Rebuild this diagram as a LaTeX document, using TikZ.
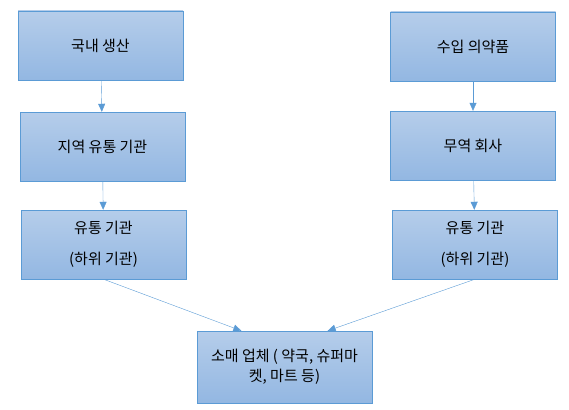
\documentclass[tikz,border=0pt]{standalone}
\usepackage{fontspec}
\setmainfont{Noto Sans CJK KR}
\usetikzlibrary{arrows.meta}
\definecolor{boxline}{HTML}{5B9BD5}
\definecolor{boxtop}{HTML}{B5CDEA}
\definecolor{boxbot}{HTML}{93B7E2}

\begin{document}
\begin{tikzpicture}[x=1pt,y=-1pt,
  box/.style={draw=boxline,top color=boxtop,bottom color=boxbot,
    minimum width=165pt,minimum height=69pt,inner sep=0pt,align=center,
    font=\fontsize{15}{31}\selectfont},
  flow/.style={draw=boxline,-{Triangle[length=8pt,width=7pt]}}]
  \useasboundingbox (0,0) rectangle (569,409);
  % left column
  \node[box] (prod) at (100.5,45.5) {국내 생산};
  \node[box] (region) at (102.5,146.5) {지역 유통 기관};
  \node[box] (ldist) at (103.5,244.5) {유통 기관\\(하위 기관)};
  % right column
  \node[box] (import) at (473,46.5) {수입 의약품};
  \node[box] (trade) at (473,145.5) {무역 회사};
  \node[box] (rdist) at (475,244.5) {유통 기관\\(하위 기관)};
  % bottom
  \node[box,minimum width=175pt,minimum height=72pt,
    font=\fontsize{15}{20}\selectfont] (retail) at (284.5,367) {소매 업체 ( 약국, 슈퍼마\\켓, 마트 등)};
  \draw[flow] (prod) -- (region);
  \draw[flow] (region) -- (ldist);
  \draw[flow] (import) -- (trade);
  \draw[flow] (trade) -- (rdist);
  \draw[flow] (ldist.south) -- (retail.140);
  \draw[flow] (rdist.south) -- (retail.40);
\end{tikzpicture}
\end{document}
